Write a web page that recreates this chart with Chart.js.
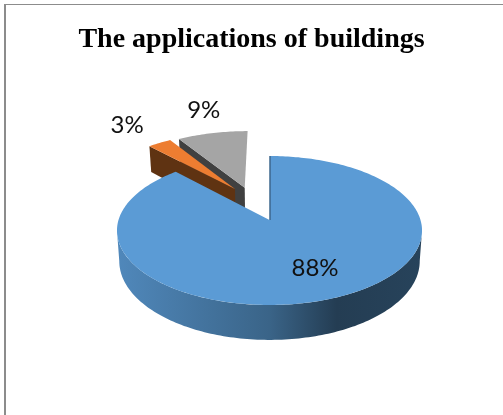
<!DOCTYPE HTML>
<html>
	<head>
		<meta charset="utf-8" />
		<title>The applications of buildings</title>
		<script src="https://cdn.jsdelivr.net/npm/chart.js@4"></script>
		<style>
			html, body { margin:0; padding:0; background:#fff; overflow:hidden; }
			#frame { position:absolute; left:4px; top:4px; width:499px; height:411px; border-left:2px solid #8c8c8c; border-top:1px solid #8c8c8c; box-sizing:border-box; }
			#wrap { position:absolute; left:0; top:0; width:503px; height:415px; }
		</style>
	</head>

	<body>
		<div id="frame"></div>
		<div id="wrap"><canvas id="pie_chart" width="503" height="415"></canvas></div>

		<script>
			var categories = ['Group A', 'Group B', 'Group C'];
			var shares = [88, 3, 9];

			var faceColors = ['#5b9bd5', '#ed7d31', '#a5a5a5'];
			var wallColors = ['#3a6488', '#5f3312', '#404040'];

			// how far each slice is pulled out, in units of the pie radius
			var pullOut = [[0, 0], [-0.243, -0.45], [-0.175, -0.47]];
			var labelReach = [0.65, 2, 1.98];
			var labelShiftX = [6, 9, 0];

			// the pie is seen from above, near slices come out larger
			var tilt = { cx:269.5, cy:220, rx:151, ry:73, k:0.141, depth:30 };

			function project(u, v)
			{
				var w = 1 - tilt.k * v;
				return { x:tilt.cx + tilt.rx * u / w, y:tilt.cy + tilt.ry * v / w, w:w };
			}

			function lower(p)
			{
				return { x:tilt.cx + (p.x - tilt.cx) * 0.985, y:p.y + tilt.depth / p.w };
			}

			function rimPoint(angle, shift)
			{
				// Chart.js angles start at 3 o'clock, -PI/2 is the top of the pie
				return project(Math.cos(angle) + shift[0], Math.sin(angle) + shift[1]);
			}

			function tracePath(ctx, points)
			{
				ctx.beginPath();
				points.forEach(function(p, i){
					if(i == 0) ctx.moveTo(p.x, p.y);
					else ctx.lineTo(p.x, p.y);
				});
				ctx.closePath();
			}

			function rimPoints(from, to, shift)
			{
				var list = [];
				var steps = Math.max(2, Math.ceil(Math.abs(to - from) / 0.02));
				for(var s = 0; s <= steps; s++)
				{
					list.push(rimPoint(from + (to - from) * s / steps, shift));
				}
				return list;
			}

			function drawFace(ctx, arc, index)
			{
				var shift = pullOut[index];
				var points = rimPoints(arc.startAngle, arc.endAngle, shift);
				points.push(project(shift[0], shift[1]));
				tracePath(ctx, points);
				ctx.fillStyle = faceColors[index];
				ctx.fill();
			}

			// the cut side of a pulled out slice, facing left
			function drawSideWall(ctx, arc, index, angle)
			{
				var shift = pullOut[index];
				var outer = rimPoint(angle, shift);
				var inner = project(shift[0], shift[1]);
				tracePath(ctx, [outer, inner, lower(inner), lower(outer)]);
				ctx.fillStyle = wallColors[index];
				ctx.fill();
			}

			function drawRoundWall(ctx)
			{
				// from widest point to widest point, with perspective these sit just in front of centre
				var widest = Math.asin(tilt.k);
				var top = rimPoints(widest, Math.PI - widest, [0, 0]);
				var bottom = top.map(lower).reverse();
				tracePath(ctx, top.concat(bottom));
				var shade = ctx.createLinearGradient(117, 0, 422, 0);
				shade.addColorStop(0, '#5088bb');
				shade.addColorStop(0.5, '#3a6488');
				shade.addColorStop(0.72, '#243d53');
				shade.addColorStop(1, '#27435b');
				ctx.fillStyle = shade;
				ctx.fill();
			}

			var tiltedPie = {
				id:'tiltedPie',
				beforeDatasetsDraw:function(chart)
				{
					var ctx = chart.ctx;
					var arcs = chart.getDatasetMeta(0).data;

					ctx.save();

					// back to front: grey, orange, then the big slice
					drawSideWall(ctx, arcs[2], 2, arcs[2].startAngle);
					drawFace(ctx, arcs[2], 2);
					drawSideWall(ctx, arcs[1], 1, arcs[1].startAngle);
					drawFace(ctx, arcs[1], 1);

					drawRoundWall(ctx);
					drawFace(ctx, arcs[0], 0);

					// thin edge of the cut beside the gap
					var rimTop = rimPoint(arcs[0].startAngle, [0, 0]);
					var apex = project(0, 0);
					ctx.strokeStyle = '#2e4d6a';
					ctx.lineWidth = 1;
					ctx.beginPath();
					ctx.moveTo(rimTop.x + 0.5, rimTop.y);
					ctx.lineTo(apex.x + 0.5, apex.y);
					ctx.stroke();

					ctx.font = '24px Lato';
					ctx.textAlign = 'center';
					ctx.textBaseline = 'middle';
					ctx.fillStyle = '#111';
					arcs.forEach(function(arc, i){
						var mid = (arc.startAngle + arc.endAngle) / 2;
						var p = project(Math.cos(mid) * labelReach[i], Math.sin(mid) * labelReach[i]);
						ctx.fillText(shares[i] + '%', p.x + labelShiftX[i], p.y);
					});

					ctx.restore();
					return false;
				}
			};

			var chart1 = new Chart(document.getElementById('pie_chart'), {
				type:'pie',
				data:{
					labels:categories,
					datasets:[{
						data:shares,
						backgroundColor:faceColors
					}]
				},
				options:{
					responsive:false,
					animation:false,
					plugins:{
						legend:{ display:false },
						tooltip:{ enabled:false },
						title:{
							display:true,
							text:'The applications of buildings',
							color:'#000',
							font:{ family:'"Liberation Serif"', size:28, weight:'bold' },
							padding:{ top:23, bottom:20 }
						}
					}
				},
				plugins:[tiltedPie]
			});
		</script>
	</body>
</html>
